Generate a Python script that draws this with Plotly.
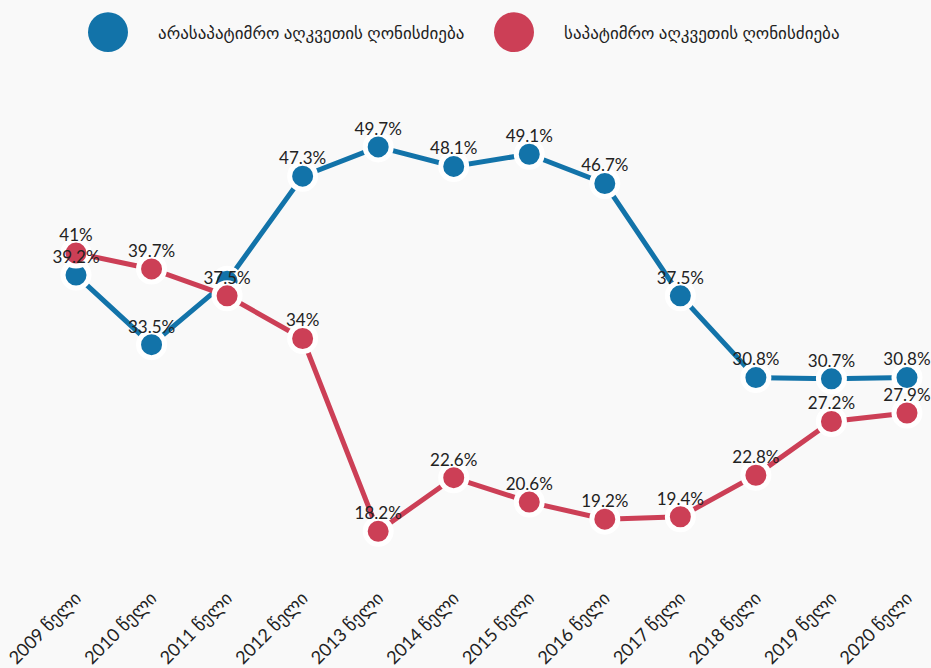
import plotly.graph_objects as go

years = ["2009 წელი", "2010 წელი", "2011 წელი", "2012 წელი", "2013 წელი", "2014 წელი",
         "2015 წელი", "2016 წელი", "2017 წელი", "2018 წელი", "2019 წელი", "2020 წელი"]
# blue 2011 point sits a bit above the red one in the picture; its label is hidden there
non_custodial = [39.2, 33.5, 38.7, 47.3, 49.7, 48.1, 49.1, 46.7, 37.5, 30.8, 30.7, 30.8]
non_custodial_labels = ["39.2%", "33.5%", "", "47.3%", "49.7%", "48.1%", "49.1%", "46.7%",
                        "37.5%", "30.8%", "30.7%", "30.8%"]
custodial = [41, 39.7, 37.5, 34, 18.2, 22.6, 20.6, 19.2, 19.4, 22.8, 27.2, 27.9]
custodial_labels = [f"{v:g}%" for v in custodial]
names = ["არასაპატიმრო აღკვეთის ღონისძიება", "საპატიმრო აღკვეთის ღონისძიება"]

BLUE = "#1273a9"
RED = "#cc3f56"
BG = "#f9f9f9"
FONT = "Lato, Noto Sans, DejaVu Sans, sans-serif"

W, H = 931, 668
ML, MR, MT, MB = 30, 0, 70, 83

series = [(non_custodial, non_custodial_labels, names[0], BLUE),
          (custodial, custodial_labels, names[1], RED)]
xs = list(range(len(years)))

fig = go.Figure()
for vals, labels, name, col in series:
    fig.add_trace(go.Scatter(
        x=xs, y=vals, name=name, mode="lines+markers",
        line=dict(color=col, width=5),
        marker=dict(size=26, color=col, line=dict(color="white", width=5)),
        cliponaxis=False, showlegend=False,
    ))
# value labels on top of every line/marker
for vals, labels, name, col in series:
    fig.add_trace(go.Scatter(
        x=xs, y=vals, mode="markers+text",
        text=labels, textposition="top center",
        textfont=dict(size=17, color="#222222", family=FONT),
        marker=dict(size=11, opacity=0),
        cliponaxis=False, showlegend=False, hoverinfo="skip",
    ))

# legend drawn by hand: big circles + text
pw = W - ML - MR
ph = H - MT - MB
def px(x):
    return (x - ML) / pw
def py(y):
    return 1 - (y - MT) / ph

for cx, tx, name, col in [(108, 156, names[0], BLUE), (514, 562, names[1], RED)]:
    fig.add_shape(type="circle", xref="paper", yref="paper",
                  x0=px(cx - 20), x1=px(cx + 20), y0=py(52), y1=py(12),
                  fillcolor=col, line=dict(width=0))
    fig.add_annotation(xref="paper", yref="paper", x=px(tx), y=py(32),
                       xanchor="left", yanchor="middle", showarrow=False,
                       text=name, font=dict(size=17, color="#222222", family=FONT))

fig.update_layout(
    width=W, height=H,
    margin=dict(l=ML, r=MR, t=MT, b=MB),
    paper_bgcolor=BG, plot_bgcolor=BG,
    font=dict(family=FONT, color="#222222"),
    xaxis=dict(range=[-0.609, 11.318], tickmode="array",
               tickvals=xs, ticktext=years,
               tickangle=-45, tickfont=dict(size=18, color="#222222"),
               showgrid=False, zeroline=False, showline=False, ticks=""),
    yaxis=dict(range=[13.97, 56.00], visible=False, showgrid=False, zeroline=False),
)

fig.write_html("out.html", config={"displayModeBar": False},
               post_script="document.body.style.margin='0';document.body.style.overflow='hidden';")
